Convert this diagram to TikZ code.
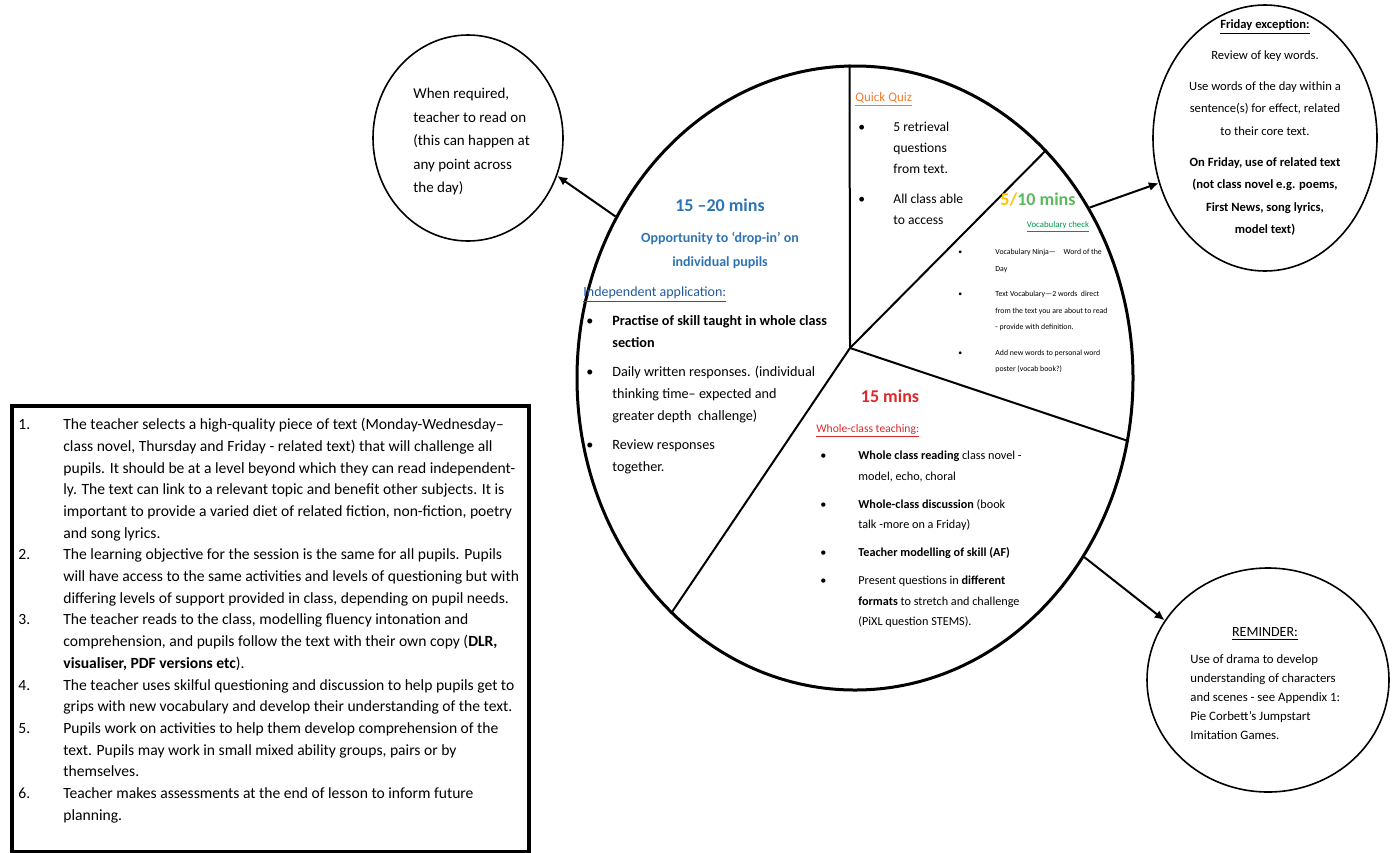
\documentclass[tikz,border=0pt]{standalone}
\usepackage{fontspec}
\setmainfont{Carlito}
\usetikzlibrary{shapes.geometric, arrows.meta}

\definecolor{dropblue}{RGB}{46,116,181}
\definecolor{appblue}{RGB}{31,90,160}
\definecolor{quizorange}{RGB}{237,125,49}
\definecolor{vocyellow}{RGB}{255,192,0}
\definecolor{vocgreen}{RGB}{92,184,92}
\definecolor{chkgreen}{RGB}{0,150,70}
\definecolor{teachred}{RGB}{220,40,40}

\begin{document}
\begin{tikzpicture}[x=0.5pt, y=-0.5pt, >={Latex[length=5pt,width=4.5pt]},
   bubble/.style={draw, ellipse, line width=0.8pt, inner sep=0},
   txt/.style={inner sep=0, anchor=north west, align=left},
   head/.style={inner sep=0, anchor=base west},
   mins/.style={inner sep=0, anchor=base, font=\fontsize{9}{11}\selectfont\bfseries}]
   \useasboundingbox (0,0) rectangle (1396,852);

   % the lesson wheel
   \node[draw, ellipse, line width=1.5pt, minimum width=278pt, minimum height=312pt] (wheel) at (855,378) {};
   \coordinate (hub) at (850,348);
   \draw[line width=1pt] (hub) -- (wheel.91);
   \draw[line width=1pt] (hub) -- (wheel.50);
   \draw[line width=1pt] (hub) -- (wheel.347);
   \draw[line width=1pt] (hub) -- (wheel.232);

   % outer bubbles
   \node[bubble, minimum width=95pt, minimum height=103pt] (readon) at (468,138) {};
   \node[bubble, minimum width=112pt, minimum height=133pt] (friday) at (1265,138) {};
   \node[bubble, minimum width=121pt, minimum height=112pt] (remind) at (1268,680) {};

   \draw[->, line width=1pt] (wheel.146) -- (readon.-23);
   \draw[->, line width=1pt] (wheel.36) -- (friday.203);
   \draw[->, line width=1pt] (wheel.-38) -- (remind.150);

   % independent application
   \node[mins, text=dropblue] (mins1) at (720,211) {15 –20 mins};
   \node[inner sep=0, anchor=north, align=center, font=\fontsize{7}{12}\selectfont\bfseries, text=dropblue] (dropin) at (720,232) {Opportunity to ‘drop-in’ on\\individual pupils};
   \node[head, font=\fontsize{7}{12}\selectfont, text=appblue] (indep) at (583,296) {\underline{Independent application:}};
   \node[txt, font=\fontsize{7.1}{11}\selectfont] (indeplist) at (586,310) {%
      \begin{tabular}{@{}p{13pt}@{}l@{}}
      \textbullet & \textbf{Practise of skill taught in whole class}\\
                  & \textbf{section}\\[3.5pt]
      \textbullet & Daily written responses. (individual\\
                  & thinking time– expected and\\
                  & greater depth\ \ challenge)\\[3.5pt]
      \textbullet & Review responses\\
                  & together.
      \end{tabular}};

   % quick quiz
   \node[head, font=\fontsize{6.5}{11}\selectfont, text=quizorange] (quiz) at (855,101) {\underline{Quick Quiz}};
   \node[txt, font=\fontsize{6.8}{10.5}\selectfont] (quizlist) at (858,116) {%
      \begin{tabular}{@{}p{17.5pt}@{}l@{}}
      \textbullet & 5 retrieval\\
                  & questions\\
                  & from text.\\[4.5pt]
      \textbullet & All class able\\
                  & to access
      \end{tabular}};

   % vocabulary
   \node[mins] (mins2) at (1038,205) {\textcolor{vocyellow}{5/}\textcolor{vocgreen}{10 mins}};
   \node[inner sep=0, anchor=base, font=\fontsize{4.4}{6}\selectfont, text=chkgreen] (vocab) at (1058,227) {\underline{Vocabulary check}};
   \node[txt, font=\fontsize{3.9}{8.25}\selectfont] (vocablist) at (958,243) {%
      \begin{tabular}{@{}p{18.5pt}@{}l@{}}
      \textbullet & Vocabulary Ninja—\quad Word of the\\
                  & Day\\[4.5pt]
      \textbullet & Text Vocabulary—2 words\ \ direct\\
                  & from the text you are about to read\\
                  & - provide with definition.\\[4.5pt]
      \textbullet & Add new words to personal word\\
                  & poster (vocab book?)
      \end{tabular}};

   % whole-class teaching
   \node[mins, text=teachred] (mins3) at (890,402) {15 mins};
   \node[head, font=\fontsize{5.8}{7}\selectfont, text=teachred] (whole) at (816,432) {\underline{Whole-class teaching:}};
   \node[txt, font=\fontsize{6.1}{10.25}\selectfont] (wholelist) at (820,445) {%
      \begin{tabular}{@{}p{19pt}@{}l@{}}
      \textbullet & \textbf{Whole class reading} class novel -\\
                  & model, echo, choral\\[3.75pt]
      \textbullet & \textbf{Whole-class discussion} (book\\
                  & talk -more on a Friday)\\[3.75pt]
      \textbullet & \textbf{Teacher modelling of skill (AF)}\\[3.75pt]
      \textbullet & Present questions in \textbf{different}\\
                  & \textbf{formats} to stretch and challenge\\
                  & (PiXL question STEMS).
      \end{tabular}};

   % bubble texts
   \node[txt, font=\fontsize{7.5}{11.75}\selectfont] (readtext) at (413,88) {When required,\\teacher to read on\\(this can happen at\\any point across\\the day)};
   \node[inner sep=0, anchor=north, align=center, font=\fontsize{6.3}{11.25}\selectfont] (fritext) at (1265,19) {%
      \underline{\textbf{Friday exception:}}\\[4.25pt]
      Review of key words.\\[4.25pt]
      Use words of the day within a\\
      sentence(s) for effect, related\\
      to their core text.\\[4.25pt]
      \textbf{On Friday, use of related text}\\
      \textbf{(not class novel e.g. poems,}\\
      \textbf{First News, song lyrics,}\\
      \textbf{model text)}};
   \node[inner sep=0, anchor=base, font=\fontsize{7}{9}\selectfont] (remhead) at (1265,636) {\underline{REMINDER:}};
   \node[txt, font=\fontsize{6.4}{9.5}\selectfont] (remtext) at (1190,654) {Use of drama to develop\\understanding of characters\\and scenes - see Appendix 1:\\Pie Corbett's Jumpstart\\Imitation Games.};

   % steps box
   \node[draw, line width=2pt, minimum width=258.5pt, minimum height=223pt, anchor=north west, inner sep=0] (steps) at (10,404) {};
   \node[txt, font=\fontsize{7.8}{10.85}\selectfont] (steplist) at (18,414) {%
      \begin{tabular}{@{}p{22.5pt}@{}l@{}}
      1. & The teacher selects a high-quality piece of text (Monday-Wednesday–\\
         & class novel, Thursday and Friday - related text) that will challenge all\\
         & pupils. It should be at a level beyond which they can read independent-\\
         & ly. The text can link to a relevant topic and benefit other subjects. It is\\
         & important to provide a varied diet of related fiction, non-fiction, poetry\\
         & and song lyrics.\\
      2. & The learning objective for the session is the same for all pupils. Pupils\\
         & will have access to the same activities and levels of questioning but with\\
         & differing levels of support provided in class, depending on pupil needs.\\
      3. & The teacher reads to the class, modelling fluency intonation and\\
         & comprehension, and pupils follow the text with their own copy (\textbf{DLR,}\\
         & \textbf{visualiser, PDF versions etc}).\\
      4. & The teacher uses skilful questioning and discussion to help pupils get to\\
         & grips with new vocabulary and develop their understanding of the text.\\
      5. & Pupils work on activities to help them develop comprehension of the\\
         & text. Pupils may work in small mixed ability groups, pairs or by\\
         & themselves.\\
      6. & Teacher makes assessments at the end of lesson to inform future\\
         & planning.
      \end{tabular}};
\end{tikzpicture}
\end{document}
